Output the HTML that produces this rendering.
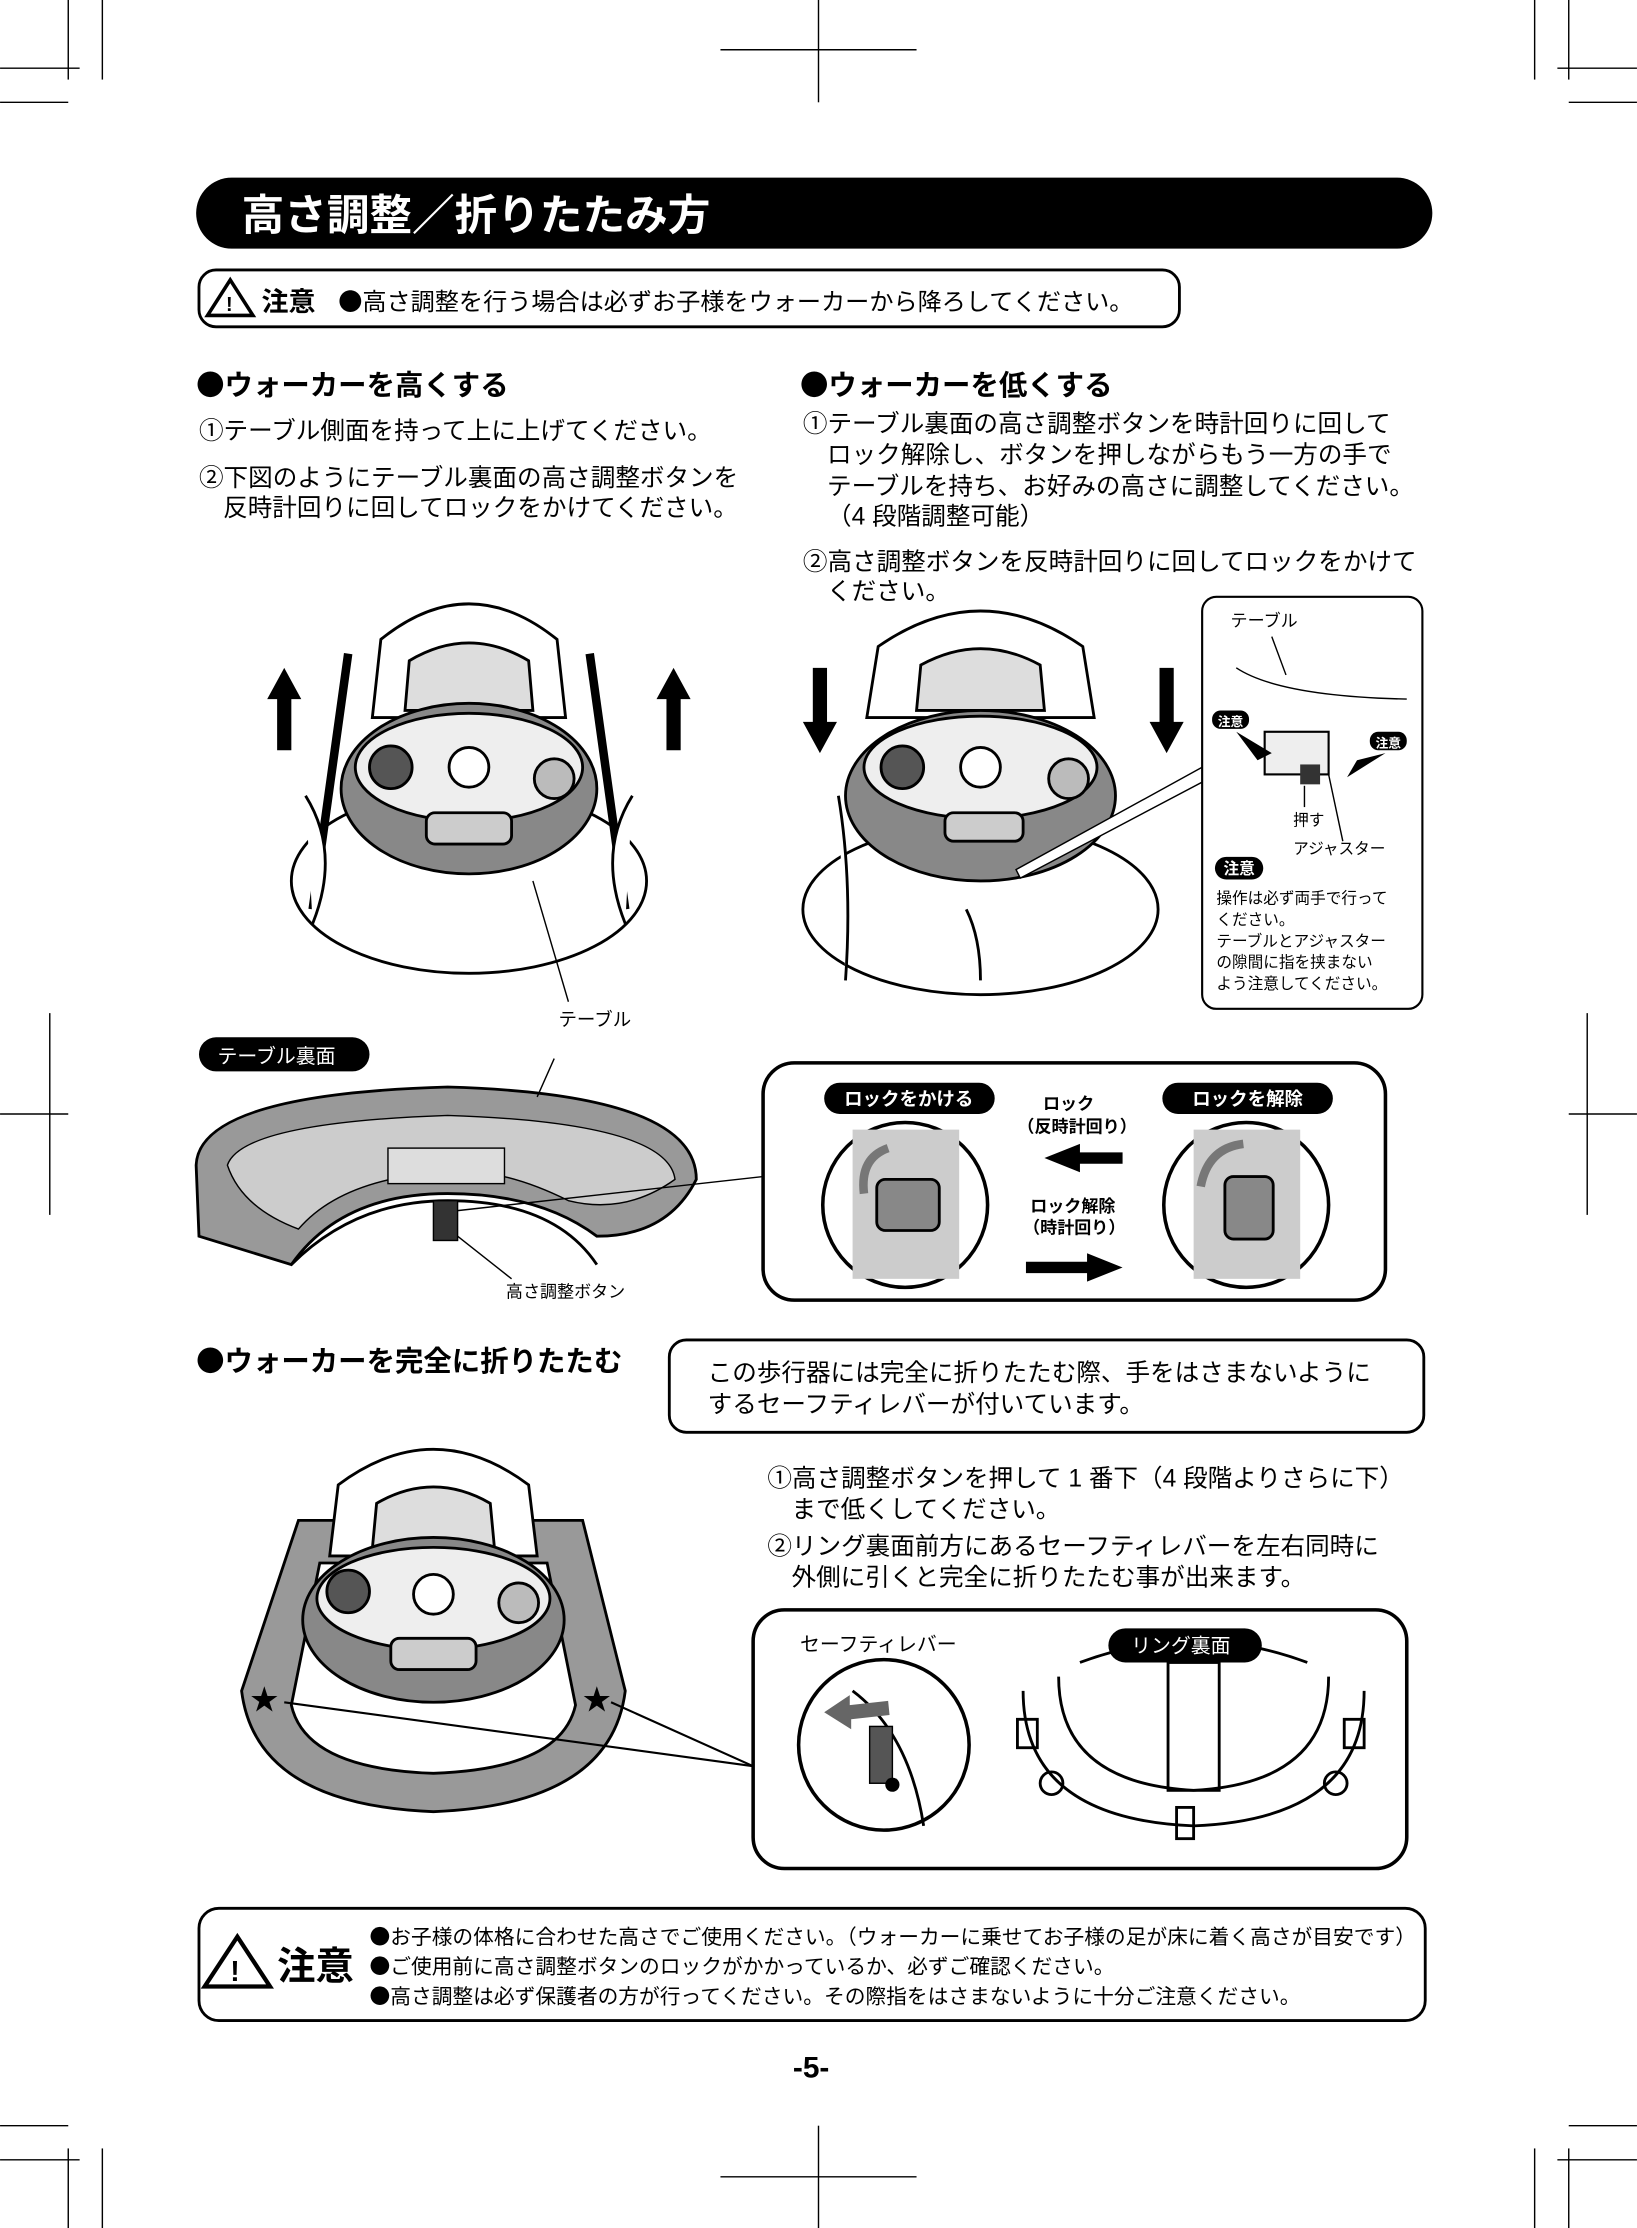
<!DOCTYPE html>
<html><head><meta charset="utf-8">
<style>
html,body{margin:0;padding:0;background:#fff;}
svg{display:block;}
text{font-family:"Liberation Sans","Noto Sans CJK JP",sans-serif;}
.b{font-weight:bold;}
.d{font-family:"Noto Sans CJK JP",sans-serif;}
</style></head>
<body>
<svg width="1637" height="2228" viewBox="0 0 1152 1568" xmlns="http://www.w3.org/2000/svg">
<g stroke="#000" stroke-width="1" fill="none">
<line x1="48" y1="0" x2="48" y2="56"/><line x1="72" y1="0" x2="72" y2="56"/><line x1="0" y1="48" x2="56" y2="48"/><line x1="0" y1="72" x2="48" y2="72"/>
<line x1="1104" y1="0" x2="1104" y2="56"/><line x1="1080" y1="0" x2="1080" y2="56"/><line x1="1096" y1="48" x2="1152" y2="48"/><line x1="1104" y1="72" x2="1152" y2="72"/>
<line x1="576" y1="0" x2="576" y2="72"/><line x1="507" y1="35" x2="645" y2="35"/>
<line x1="48" y1="1512" x2="48" y2="1568"/><line x1="72" y1="1512" x2="72" y2="1568"/><line x1="0" y1="1520" x2="56" y2="1520"/><line x1="0" y1="1496" x2="48" y2="1496"/>
<line x1="1104" y1="1512" x2="1104" y2="1568"/><line x1="1080" y1="1512" x2="1080" y2="1568"/><line x1="1096" y1="1520" x2="1152" y2="1520"/><line x1="1104" y1="1496" x2="1152" y2="1496"/>
<line x1="576" y1="1496" x2="576" y2="1568"/><line x1="507" y1="1532" x2="645" y2="1532"/>
<line x1="35" y1="713" x2="35" y2="855"/><line x1="0" y1="784" x2="48" y2="784"/>
<line x1="1117" y1="713" x2="1117" y2="855"/><line x1="1104" y1="784" x2="1152" y2="784"/>
</g>

<rect x="138" y="125" width="870" height="50" rx="25" fill="#000"/>
<text x="170" y="162" font-size="30" class="b" fill="#fff">高さ調整／折りたたみ方</text>

<rect x="140" y="190" width="690" height="40" rx="12" fill="#fff" stroke="#000" stroke-width="2"/>
<polygon points="162,197 178,222 146,222" fill="#fff" stroke="#000" stroke-width="2.5"/>
<text x="159" y="219" font-size="14" class="b">!</text>
<text x="184" y="219" font-size="19" class="b">注意</text>
<text x="238" y="218" font-size="17"><tspan class="d">●</tspan>高さ調整を行う場合は必ずお子様をウォーカーから降ろしてください。</text>

<text x="138" y="278" font-size="20" class="b"><tspan class="d">●</tspan>ウォーカーを高くする</text>
<text x="140" y="309" font-size="17.3">①テーブル側面を持って上に上げてください。</text>
<text x="140" y="342" font-size="17.3">②下図のようにテーブル裏面の高さ調整ボタンを</text>
<text x="157" y="363" font-size="17.3">反時計回りに回してロックをかけてください。</text>

<text x="563" y="278" font-size="20" class="b"><tspan class="d">●</tspan>ウォーカーを低くする</text>
<text x="565" y="304" font-size="17.3">①テーブル裏面の高さ調整ボタンを時計回りに回して</text>
<text x="582" y="326" font-size="17.3">ロック解除し、ボタンを押しながらもう一方の手で</text>
<text x="582" y="348" font-size="17.3">テーブルを持ち、お好みの高さに調整してください。</text>
<text x="582" y="369" font-size="17.3">（4 段階調整可能）</text>
<text x="565" y="401" font-size="17.3">②高さ調整ボタンを反時計回りに回してロックをかけて</text>
<text x="582" y="422" font-size="17.3">ください。</text>

<!-- walker 1 -->
<g stroke="#000" stroke-width="2">
<ellipse cx="330" cy="620" rx="125" ry="65" fill="#fff"/>
<path d="M245,460 L220,640 M415,460 L440,640" stroke-width="6"/>
<path d="M262,505 L268,450 Q330,400 392,450 L398,505 Z" fill="#fff"/>
<path d="M285,500 L288,465 Q330,440 372,465 L375,500 Z" fill="#ddd"/>
<ellipse cx="330" cy="555" rx="90" ry="60" fill="#888"/>
<ellipse cx="330" cy="540" rx="80" ry="38" fill="#eee"/>
<rect x="300" y="572" width="60" height="22" rx="6" fill="#ccc"/>
<circle cx="275" cy="540" r="15" fill="#555"/><circle cx="330" cy="540" r="14" fill="#fff"/><circle cx="390" cy="548" r="14" fill="#bbb"/>
<path d="M215,560 Q240,600 220,650" fill="#fff"/><path d="M445,560 Q420,600 440,650" fill="#fff"/>
</g>
<polygon points="200,470 212,492 205,492 205,528 195,528 195,492 188,492" fill="#000"/>
<polygon points="474,470 486,492 479,492 479,528 469,528 469,492 462,492" fill="#000"/>
<line x1="375" y1="620" x2="400" y2="705" stroke="#000"/>
<text x="393" y="722" font-size="13">テーブル</text>

<!-- walker 2 -->
<g stroke="#000" stroke-width="2">
<ellipse cx="690" cy="640" rx="125" ry="60" fill="#fff"/>
<path d="M610,505 L618,455 Q690,405 762,455 L770,505 Z" fill="#fff"/>
<path d="M645,500 L648,468 Q690,445 732,468 L735,500 Z" fill="#ddd"/>
<ellipse cx="690" cy="560" rx="95" ry="60" fill="#888"/>
<ellipse cx="690" cy="540" rx="82" ry="36" fill="#eee"/>
<rect x="665" y="572" width="55" height="20" rx="6" fill="#ccc"/>
<circle cx="635" cy="540" r="15" fill="#555"/><circle cx="690" cy="540" r="14" fill="#fff"/><circle cx="752" cy="548" r="14" fill="#bbb"/>
<path d="M590,560 Q600,620 595,690" fill="#fff"/><path d="M680,640 Q690,660 690,690" fill="#fff"/>
</g>
<polygon points="577,530 589,508 582,508 582,470 572,470 572,508 565,508" fill="#000"/>
<polygon points="821,530 833,508 826,508 826,470 816,470 816,508 809,508" fill="#000"/>
<polygon points="715,612 855,535 862,542 718,618" fill="#fff" stroke="#000"/>

<rect x="846" y="420" width="155" height="290" rx="10" fill="#fff" stroke="#000" stroke-width="1.5"/>
<text x="866" y="441" font-size="12">テーブル</text>
<path d="M870,470 Q900,490 990,492" fill="none" stroke="#000"/>
<line x1="895" y1="448" x2="905" y2="475" stroke="#000"/>
<rect x="890" y="515" width="45" height="30" fill="#eee" stroke="#000" stroke-width="1.5"/>
<rect x="915" y="538" width="14" height="14" fill="#333"/>
<rect x="853" y="500" width="26" height="13" rx="6" fill="#000"/><text x="857" y="511" font-size="9" fill="#fff" class="b">注意</text>
<rect x="964" y="515" width="26" height="13" rx="6" fill="#000"/><text x="968" y="526" font-size="9" fill="#fff" class="b">注意</text>
<polygon points="870,515 895,530 885,535" fill="#000"/><polygon points="975,530 948,547 955,535" fill="#000"/>
<line x1="918" y1="553" x2="918" y2="568" stroke="#000"/>
<text x="910" y="581" font-size="11">押す</text>
<line x1="935" y1="545" x2="945" y2="592" stroke="#000"/>
<text x="910" y="601" font-size="11">アジャスター</text>
<rect x="855" y="603" width="34" height="16" rx="8" fill="#000"/><text x="861" y="615" font-size="11" fill="#fff" class="b">注意</text>
<text x="856" y="636" font-size="11">操作は必ず両手で行って</text>
<text x="856" y="651" font-size="11">ください。</text>
<text x="856" y="666" font-size="11">テーブルとアジャスター</text>
<text x="856" y="681" font-size="11">の隙間に指を挟まない</text>
<text x="856" y="696" font-size="11">よう注意してください。</text>

<rect x="140" y="730" width="120" height="24" rx="12" fill="#000"/>
<text x="153" y="748" font-size="14" fill="#fff">テーブル裏面</text>
<path d="M138,820 Q140,770 315,765 Q490,770 490,830 Q470,870 420,870 Q380,840 315,840 Q240,840 205,890 L140,870 Z" fill="#999" stroke="#000" stroke-width="2"/>
<path d="M160,820 Q170,790 315,785 Q470,790 475,830 Q440,855 400,845 Q350,820 310,825 Q240,830 210,865 Q170,850 160,820 Z" fill="#ccc" stroke="#000"/>
<path d="M205,890 Q250,845 315,845 Q390,845 420,890" fill="none" stroke="#000" stroke-width="2"/>
<rect x="273" y="808" width="82" height="25" fill="#ddd" stroke="#000"/>
<rect x="305" y="845" width="17" height="28" fill="#333" stroke="#000"/>
<line x1="378" y1="772" x2="390" y2="745" stroke="#000"/>
<line x1="322" y1="870" x2="360" y2="900" stroke="#000"/>
<text x="356" y="913" font-size="12">高さ調整ボタン</text>
<line x1="322" y1="852" x2="537" y2="828" stroke="#000"/>

<rect x="537" y="748" width="438" height="167" rx="22" fill="#fff" stroke="#000" stroke-width="2.5"/>
<rect x="580" y="762" width="120" height="22" rx="11" fill="#000"/>
<text x="594" y="778" font-size="13" fill="#fff" class="b">ロックをかける</text>
<rect x="818" y="762" width="120" height="22" rx="11" fill="#000"/>
<text x="839" y="778" font-size="13" fill="#fff" class="b">ロックを解除</text>
<text x="734" y="781" font-size="12" class="b">ロック</text>
<text x="716" y="797" font-size="12" class="b">（反時計回り）</text>
<polygon points="735,815 760,805 760,811 790,811 790,819 760,819 760,825" fill="#000"/>
<text x="725" y="853" font-size="12" class="b">ロック解除</text>
<text x="720" y="868" font-size="12" class="b">（時計回り）</text>
<polygon points="790,892 765,882 765,888 722,888 722,896 765,896 765,902" fill="#000"/>
<circle cx="637" cy="848" r="58" fill="#fff" stroke="#000" stroke-width="2.5"/>
<rect x="600" y="795" width="75" height="105" fill="#ccc"/>
<rect x="617" y="830" width="44" height="36" rx="6" fill="#888" stroke="#000" stroke-width="2"/>
<path d="M608,840 Q605,815 625,808" fill="none" stroke="#777" stroke-width="6"/>
<circle cx="877" cy="848" r="58" fill="#fff" stroke="#000" stroke-width="2.5"/>
<rect x="840" y="795" width="75" height="105" fill="#ccc"/>
<rect x="862" y="828" width="34" height="44" rx="6" fill="#888" stroke="#000" stroke-width="2"/>
<path d="M845,835 Q850,808 875,805" fill="none" stroke="#777" stroke-width="6"/>

<text x="138" y="965" font-size="20" class="b"><tspan class="d">●</tspan>ウォーカーを完全に折りたたむ</text>
<rect x="471" y="943" width="531" height="65" rx="12" fill="#fff" stroke="#000" stroke-width="2"/>
<text x="498" y="972" font-size="17.3">この歩行器には完全に折りたたむ際、手をはさまないように</text>
<text x="498" y="994" font-size="17.3">するセーフティレバーが付いています。</text>
<text x="540" y="1046" font-size="17.3">①高さ調整ボタンを押して 1 番下（4 段階よりさらに下）</text>
<text x="557" y="1068" font-size="17.3">まで低くしてください。</text>
<text x="540" y="1094" font-size="17.3">②リング裏面前方にあるセーフティレバーを左右同時に</text>
<text x="557" y="1116" font-size="17.3">外側に引くと完全に折りたたむ事が出来ます。</text>

<g stroke="#000" stroke-width="2">
<path d="M170,1190 Q180,1270 305,1275 Q430,1270 440,1190 L410,1070 L210,1070 Z" fill="#999"/>
<path d="M205,1200 Q215,1245 305,1248 Q395,1245 405,1200 L385,1100 L225,1100 Z" fill="#fff"/>
<path d="M232,1095 L238,1045 Q305,995 372,1045 L378,1095 Z" fill="#fff"/>
<path d="M262,1090 L265,1058 Q305,1035 345,1058 L348,1090 Z" fill="#ddd"/>
<ellipse cx="305" cy="1140" rx="92" ry="58" fill="#888"/>
<ellipse cx="305" cy="1125" rx="82" ry="36" fill="#eee"/>
<rect x="275" y="1153" width="60" height="22" rx="6" fill="#ccc"/>
<circle cx="245" cy="1120" r="15" fill="#555"/><circle cx="305" cy="1122" r="14" fill="#fff"/><circle cx="365" cy="1128" r="14" fill="#bbb"/>
</g>
<text x="176" y="1203" font-size="20">★</text><text x="410" y="1203" font-size="20">★</text>
<line x1="200" y1="1198" x2="530" y2="1243" stroke="#000" stroke-width="1.5"/>
<line x1="430" y1="1198" x2="530" y2="1243" stroke="#000" stroke-width="1.5"/>

<rect x="530" y="1133" width="460" height="182" rx="22" fill="#fff" stroke="#000" stroke-width="2.5"/>
<g stroke="#000" stroke-width="2" fill="none">
<path d="M720,1190 Q720,1280 840,1285 Q960,1280 960,1190"/>
<path d="M745,1180 Q745,1255 840,1260 Q935,1255 935,1180"/>
<path d="M760,1170 Q840,1140 920,1170"/>
<rect x="822" y="1170" width="36" height="90"/>
<circle cx="740" cy="1255" r="8"/><circle cx="940" cy="1255" r="8"/>
<rect x="828" y="1272" width="12" height="22"/>
<rect x="716" y="1210" width="14" height="20"/><rect x="946" y="1210" width="14" height="20"/>
</g>
<text x="563" y="1162" font-size="14">セーフティレバー</text>
<rect x="780" y="1146" width="108" height="24" rx="12" fill="#000"/>
<text x="796" y="1163" font-size="14" fill="#fff">リング裏面</text>
<circle cx="622" cy="1228" r="60" fill="#fff" stroke="#000" stroke-width="2.5"/>
<path d="M600,1190 Q640,1220 650,1285" fill="none" stroke="#000" stroke-width="2"/>
<rect x="612" y="1215" width="16" height="40" fill="#555" stroke="#000"/>
<circle cx="628" cy="1256" r="5" fill="#000"/>
<polygon points="580,1205 598,1193 598,1200 625,1197 626,1207 599,1210 599,1217" fill="#666"/>

<rect x="140" y="1343" width="863" height="79" rx="14" fill="#fff" stroke="#000" stroke-width="2"/>
<polygon points="167,1363 190,1398 144,1398" fill="#fff" stroke="#000" stroke-width="3"/>
<text x="162" y="1394" font-size="20" class="b">!</text>
<text x="195" y="1393" font-size="27" class="b">注意</text>
<text x="260" y="1368" font-size="14.6"><tspan class="d">●</tspan>お子様の体格に合わせた高さでご使用ください。（ウォーカーに乗せてお子様の足が床に着く高さが目安です）</text>
<text x="260" y="1389" font-size="14.6"><tspan class="d">●</tspan>ご使用前に高さ調整ボタンのロックがかかっているか、必ずご確認ください。</text>
<text x="260" y="1410" font-size="14.6"><tspan class="d">●</tspan>高さ調整は必ず保護者の方が行ってください。その際指をはさまないように十分ご注意ください。</text>

<text x="558" y="1462" font-size="21" class="b">-5-</text>
</svg>
</body></html>
